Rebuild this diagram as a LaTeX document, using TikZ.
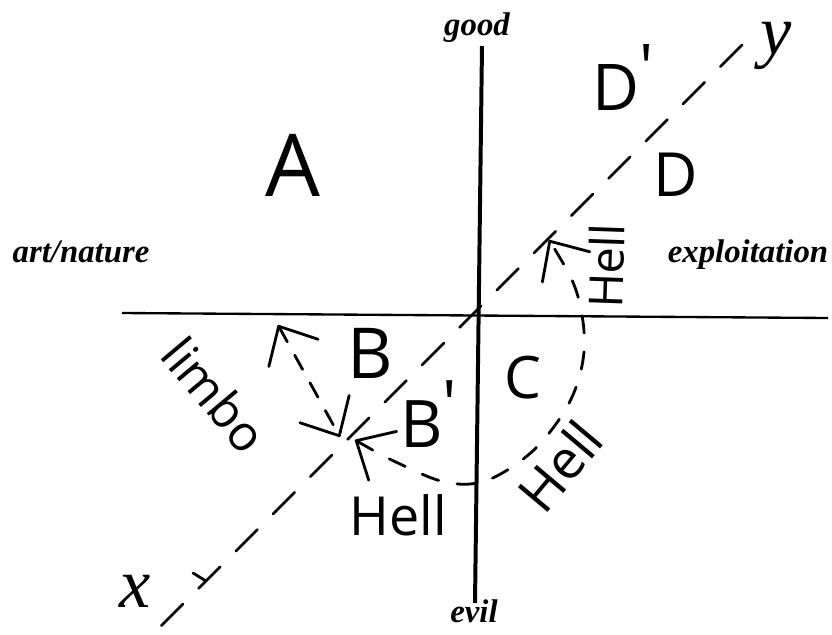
\documentclass[tikz,border=0pt]{standalone}
\usepackage{fontspec}
\setmainfont{Liberation Serif}
\newfontfamily\hand{Open Sans}
\usetikzlibrary{arrows.meta}

\begin{document}
\begin{tikzpicture}[x=0.03cm, y=-0.03cm,
  axislbl/.style={font=\fontsize{28}{30}\selectfont\bfseries\itshape, inner sep=0pt},
  region/.style={font=\hand\fontsize{#1}{#1}\selectfont, inner sep=0pt},
  axisname/.style={font=\fontsize{60}{60}\selectfont\itshape, inner sep=0pt, anchor=base},
  pen/.style={line width=2.4pt, line cap=round, line join=round},
  barbs/.style={{Straight Barb[length=26pt,width=48pt,round]}-{Straight Barb[length=26pt,width=48pt,round]}}]
  \useasboundingbox (0,0) rectangle (832,634);

  %--- axes ---
  \coordinate (goodEnd) at (482,46);
  \coordinate (evilEnd) at (475,603);
  \coordinate (artEnd)  at (122,313);
  \coordinate (expEnd)  at (828,318);
  \draw[line width=3.4pt] (goodEnd) -- (evilEnd);
  \draw[line width=2pt]   (artEnd) -- (expEnd);
  \node[axislbl] (good) at (477,28)  {good};
  \node[axislbl] (evil) at (474,611) {evil};
  \node[axislbl] (art)  at (81,252)  {art/nature};
  \node[axislbl] (expl) at (748,255) {exploitation};

  %--- x/y diagonal (dashed) ---
  \coordinate (xEnd) at (157,630);
  \coordinate (yEnd) at (742,45);
  \draw[pen, dash pattern=on 26pt off 19pt] (yEnd) -- (xEnd);
  \draw[pen] (193,573) -- (206,581);
  \node[axisname] (xlbl) at (135,607) {x};
  \node[axisname] (ylbl) at (776,54)  {y};

  %--- regions ---
  \node[region=74] (A)  at (293,165) {A};
  \node[region=55, anchor=base west] (Dp) at (592,110) {D\raisebox{.3em}{'}};
  \node[region=52] (D)  at (676,175) {D};
  \node[region=60] (B)  at (370,353) {B};
  \node[region=56, anchor=base west] (Bp) at (400,447) {B\raisebox{.3em}{'}};
  \node[region=50] (C)  at (523,378) {C};

  %--- limbo ---
  \node[region=42, rotate=-50] (limbo) at (215,395) {limbo};
  \coordinate (lmbTop) at (278,325);
  \coordinate (lmbBot) at (340,437);
  \draw[pen, dash pattern=on 14pt off 13pt, barbs] (lmbTop) -- (lmbBot);

  %--- hell ---
  \node[region=46]            (hellS)  at (398,515) {Hell};
  \node[region=46, rotate=50] (hellSE) at (560,466) {Hell};
  \node[region=40, rotate=88] (hellE)  at (606,266) {Hell};
  \coordinate (hellA) at (355,440);
  \coordinate (hellB) at (549,240);
  \draw[pen, dash pattern=on 15pt off 16pt, barbs]
    plot[smooth, tension=0.6] coordinates {(hellA) (398,463) (445,482) (485,481)
      (527,456) (556,424) (575,390) (584,352) (582,315) (572,280) (hellB)};

\end{tikzpicture}
\end{document}
